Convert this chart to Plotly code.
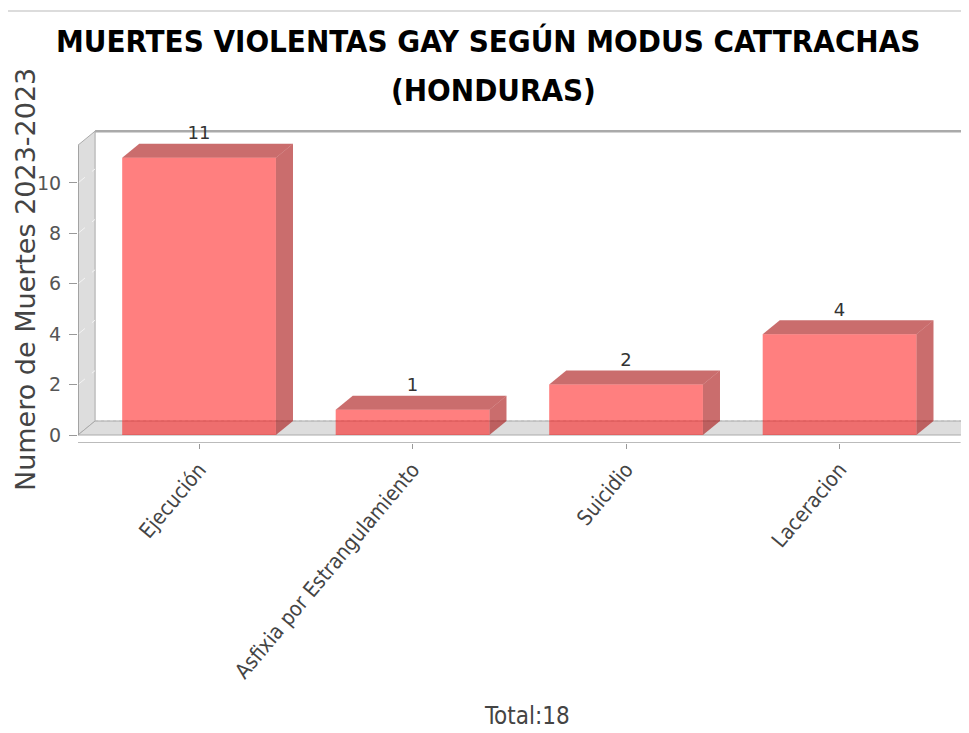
"""3D-style bar chart: muertes violentas por modus (Cattrachas, Honduras)."""

import plotly.graph_objects as go

CATEGORIES = ["Ejecución", "Asfixia por Estrangulamiento", "Suicidio", "Laceracion"]
MUERTES = [11, 1, 2, 4]
Y_TICKS = [0, 2, 4, 6, 8, 10]
TOTAL_LABEL = "Total:18"

TITLE_LINES = ["MUERTES VIOLENTAS GAY SEGÚN MODUS CATTRACHAS", "(HONDURAS)"]
Y_TITLE = "Numero de Muertes 2023-2023"

# pseudo-3D geometry (data units)
BAR_W = 0.72
DX, DY = 0.08, 0.556
X_LO, X_HI = -0.567, 3.567
WALL_TOP = 11.5
Y_LO, Y_HI = -0.3175, 12.3

FRONT = "rgba(255,0,0,0.5)"
FACE = "rgba(170,20,20,0.62)"
WALL = "#dddddd"
EDGE = "#aaaaaa"
TXT = "#444444"
SANS = "DejaVu Sans, sans-serif"
COND = "DejaVu Sans Condensed, DejaVu Sans, sans-serif"

x = list(range(len(CATEGORIES)))

fig = go.Figure()
fig.add_trace(go.Bar(
    x=x, y=MUERTES, width=BAR_W,
    marker={"color": FRONT, "line": {"width": 0}},
    hoverinfo="skip", showlegend=False,
))
fig.add_trace(go.Scatter(
    x=x, y=[v + DY for v in MUERTES],
    mode="text", text=[str(v) for v in MUERTES],
    textposition="top center",
    textfont={"family": SANS, "size": 18, "color": "#333333"},
    cliponaxis=False, hoverinfo="skip", showlegend=False,
))

shapes = []


def poly(pts, fill, line_color=None, width=0):
    path = "M " + " L ".join(f"{a},{b}" for a, b in pts) + " Z"
    return dict(type="path", path=path, xref="x", yref="y", layer="below",
                fillcolor=fill, line={"color": line_color or fill, "width": width})


# left wall, floor, back wall top edge
shapes.append(poly([(X_LO, 0), (X_LO + DX, DY), (X_LO + DX, WALL_TOP + DY), (X_LO, WALL_TOP)],
                   WALL, EDGE, 1))
shapes.append(poly([(X_LO, 0), (X_HI, 0), (X_HI + DX, DY), (X_LO + DX, DY)], WALL, EDGE, 1))
shapes.append(dict(type="line", xref="x", yref="y", layer="below",
                   x0=X_LO + DX, x1=X_HI + 2 * DX, y0=WALL_TOP + DY, y1=WALL_TOP + DY,
                   line={"color": EDGE, "width": 2.5}))
shapes.append(dict(type="line", xref="x", yref="y", layer="below",
                   x0=X_LO + DX, x1=X_HI + DX, y0=DY, y1=DY,
                   line={"color": "#bbbbbb", "width": 1, "dash": "dot"}))
for t in Y_TICKS[1:]:
    shapes.append(dict(type="line", xref="x", yref="y", layer="below",
                       x0=X_LO, x1=X_LO + DX, y0=t, y1=t + DY,
                       line={"color": "#f4f4f4", "width": 1, "dash": "dash"}))

# bar top and side faces
for i, v in zip(x, MUERTES):
    l, r = i - BAR_W / 2, i + BAR_W / 2
    shapes.append(poly([(l, v), (l + DX, v + DY), (r + DX, v + DY), (r, v)], FACE))
    shapes.append(poly([(r, 0), (r + DX, DY), (r + DX, v + DY), (r, v)], FACE))

# axis lines
shapes.append(dict(type="line", xref="x", yref="y", x0=X_LO, x1=X_LO, y0=0, y1=WALL_TOP,
                   line={"color": "#999999", "width": 1.5}))
shapes.append(dict(type="line", xref="x", yref="y", x0=X_LO, x1=X_HI, y0=Y_LO, y1=Y_LO,
                   line={"color": "#bbbbbb", "width": 2}))
# thin rule at the very top
shapes.append(dict(type="line", xref="paper", yref="paper", x0=-0.09, x1=1, y0=1.3585, y1=1.3585,
                   line={"color": "#d0d0d0", "width": 1.5}))

title_notes = [
    dict(text=line, xref="paper", yref="paper", x=(cx - 78) / 891, y=(443 - cy) / 318,
         xanchor="center", yanchor="middle", showarrow=False,
         font={"family": COND, "size": 31, "color": "#000000", "weight": "bold"})
    for line, cx, cy in zip(TITLE_LINES, [488, 493], [41, 90])
]

# the page body adds an 8px offset, so the figure is sized 8px smaller
fig.update_layout(
    width=961, height=725,
    margin={"l": 70, "r": 0, "t": 117, "b": 290},
    paper_bgcolor="white", plot_bgcolor="white",
    shapes=shapes,
    annotations=title_notes + [
        dict(text=Y_TITLE, textangle=-90, xref="paper", yref="paper",
             x=(25 - 78) / 891, y=(443 - 280) / 318, xanchor="center", yanchor="middle",
             showarrow=False, font={"family": SANS, "size": 27, "color": TXT}),
        dict(text=TOTAL_LABEL, xref="paper", yref="paper",
             x=(527 - 78) / 891, y=(443 - 716) / 318, xanchor="center", yanchor="middle",
             showarrow=False, font={"family": COND, "size": 24, "color": TXT}),
    ],
    xaxis={"range": [X_LO, X_LO + 891 / 213.5], "tickvals": x, "ticktext": CATEGORIES,
           "tickangle": -50, "showgrid": False, "zeroline": False, "showline": False,
           "automargin": False,
           "ticks": "outside", "ticklen": 5, "tickcolor": "#999999",
           "tickfont": {"family": COND, "size": 21, "color": TXT}},
    yaxis={"range": [Y_LO, Y_HI], "tickvals": Y_TICKS, "showgrid": False, "zeroline": False,
           "showline": False, "automargin": False,
           "ticks": "outside", "ticklen": 8, "tickcolor": "#999999", "ticklabelstandoff": 4,
           "tickfont": {"family": SANS, "size": 19, "color": "#555555"}},
)

fig.write_html("out.html")
